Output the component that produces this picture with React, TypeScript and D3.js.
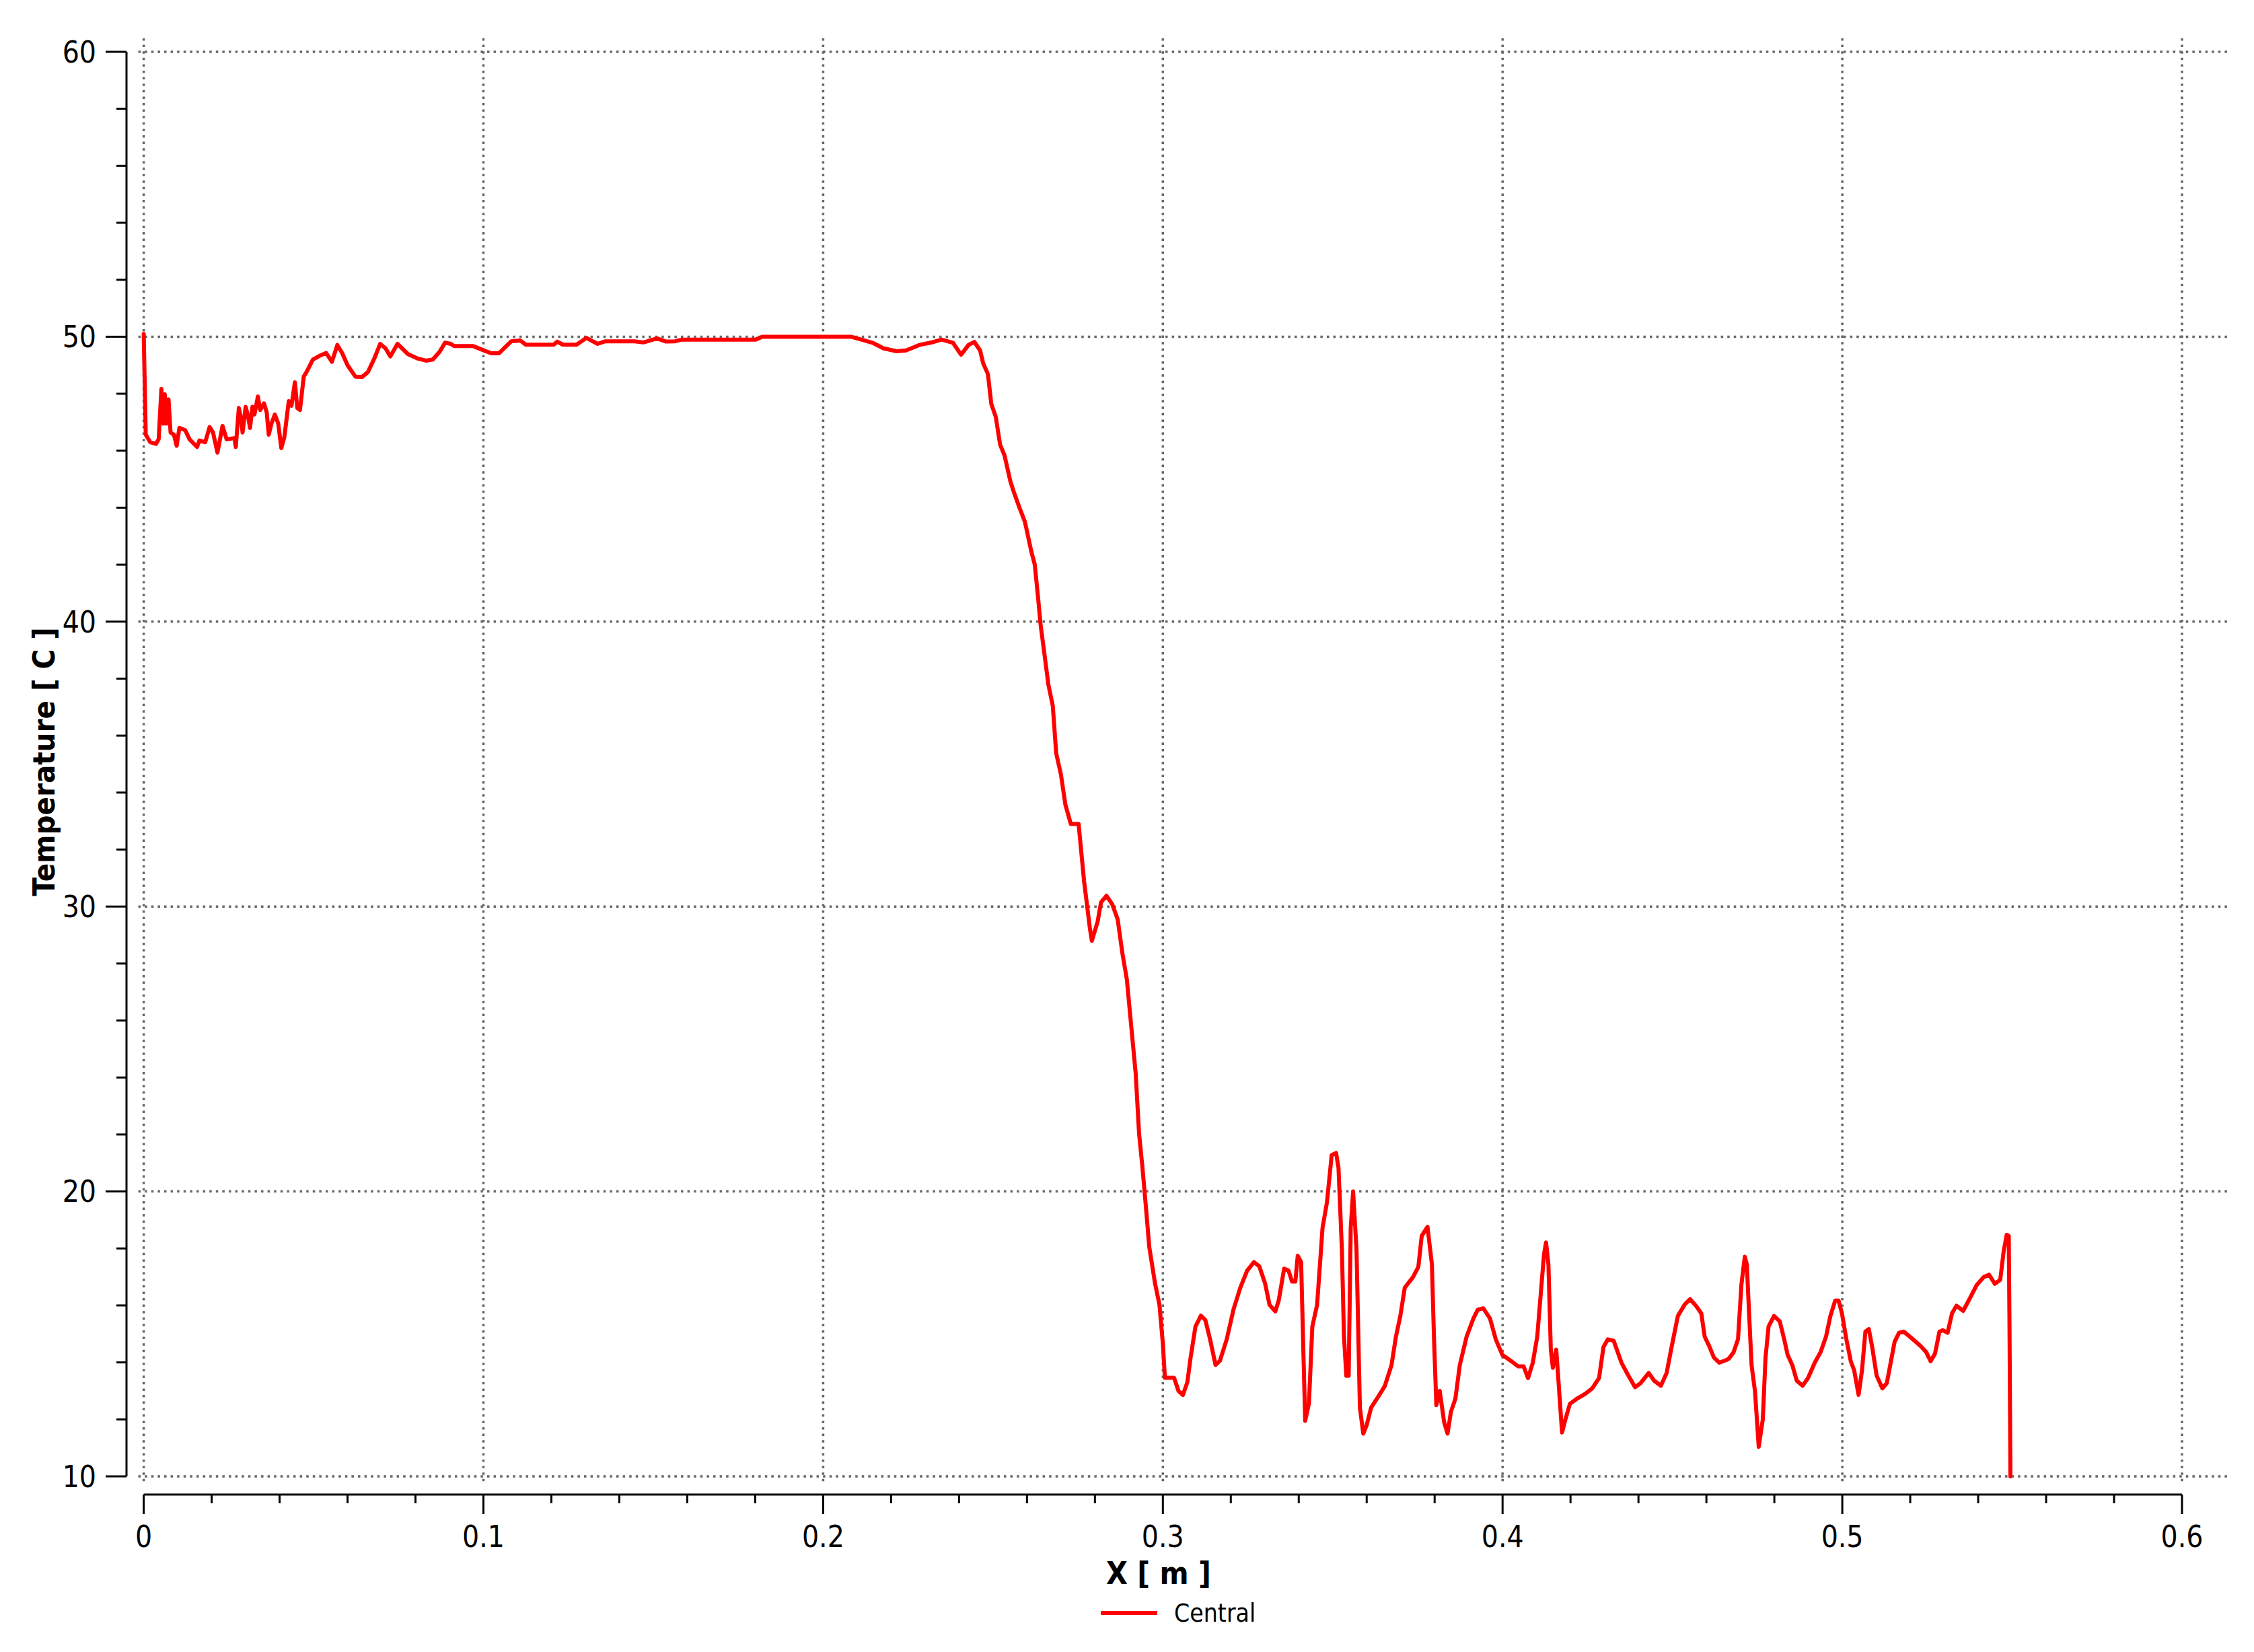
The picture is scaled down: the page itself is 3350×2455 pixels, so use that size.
import React from "react";
import * as d3 from "d3";

const positionsX: number[] = [
  0, 0.0006, 0.0019, 0.0036, 0.0044, 0.0052, 0.0058, 0.0062, 0.0067, 0.0073, 0.0079, 0.0089, 0.0097, 0.0105,
  0.0122, 0.0135, 0.0157, 0.0164, 0.0181, 0.0194, 0.0204, 0.0217, 0.0232, 0.0244, 0.0267, 0.0271, 0.028,
  0.0287, 0.0291, 0.03, 0.0306, 0.0313, 0.032, 0.0326, 0.0336, 0.0343, 0.0354, 0.0362, 0.0368, 0.0376,
  0.0386, 0.0396, 0.0405, 0.0414, 0.0427, 0.0435, 0.0445, 0.0452, 0.046, 0.0471, 0.0481, 0.0498, 0.0521,
  0.0537, 0.0554, 0.057, 0.0584, 0.06, 0.0623, 0.0643, 0.066, 0.0679, 0.0696, 0.0712, 0.0726, 0.0747,
  0.0778, 0.0805, 0.0831, 0.0851, 0.0871, 0.0887, 0.0904, 0.0914, 0.097, 0.1003, 0.1023, 0.1046, 0.1082,
  0.1108, 0.1125, 0.1207, 0.1217, 0.1234, 0.1274, 0.1303, 0.1336, 0.1359, 0.1445, 0.1471, 0.1511, 0.1537,
  0.1564, 0.1584, 0.1801, 0.1821, 0.2082, 0.2112, 0.2145, 0.2178, 0.2217, 0.2244, 0.2283, 0.2316, 0.2349,
  0.2382, 0.2406, 0.2428, 0.2445, 0.2462, 0.2471, 0.2485, 0.2495, 0.2508, 0.2521, 0.2534, 0.2551, 0.2561,
  0.2577, 0.2594, 0.2613, 0.2623, 0.2633, 0.264, 0.265, 0.2663, 0.2676, 0.2686, 0.27, 0.2713, 0.2729,
  0.2752, 0.2768, 0.2785, 0.2791, 0.2808, 0.2818, 0.2834, 0.2851, 0.2867, 0.2881, 0.2894, 0.2907, 0.292,
  0.293, 0.294, 0.295, 0.296, 0.2977, 0.299, 0.3, 0.3006, 0.3023, 0.3033, 0.3046, 0.3059, 0.3072, 0.3082,
  0.3096, 0.3112, 0.3125, 0.3139, 0.3155, 0.3168, 0.3188, 0.3208, 0.3228, 0.3248, 0.3268, 0.3284, 0.3301,
  0.3314, 0.3331, 0.3341, 0.3357, 0.337, 0.338, 0.339, 0.3397, 0.3407, 0.3414, 0.3419, 0.343, 0.344,
  0.3454, 0.347, 0.3483, 0.3497, 0.351, 0.3517, 0.3527, 0.3533, 0.354, 0.3547, 0.3553, 0.356, 0.357,
  0.358, 0.359, 0.36, 0.3613, 0.3633, 0.3653, 0.3673, 0.3686, 0.3699, 0.3712, 0.3736, 0.3752, 0.3762,
  0.3779, 0.3792, 0.3798, 0.3805, 0.3815, 0.3828, 0.3838, 0.3848, 0.3861, 0.3874, 0.3894, 0.3914, 0.3927,
  0.3943, 0.3963, 0.398, 0.3999, 0.4026, 0.4046, 0.4062, 0.4075, 0.4089, 0.4102, 0.4112, 0.4122, 0.4128,
  0.4135, 0.4142, 0.4148, 0.4158, 0.4165, 0.4175, 0.4185, 0.4198, 0.4218, 0.4244, 0.4264, 0.4284, 0.4297,
  0.431, 0.4327, 0.435, 0.437, 0.439, 0.4406, 0.443, 0.4446, 0.4466, 0.4483, 0.4496, 0.4516, 0.4536,
  0.4552, 0.4569, 0.4585, 0.4595, 0.4608, 0.4622, 0.4638, 0.4658, 0.4666, 0.468, 0.4693, 0.4703, 0.4713,
  0.4719, 0.4726, 0.4733, 0.4743, 0.4754, 0.4766, 0.4774, 0.4783, 0.4799, 0.4816, 0.4829, 0.4839, 0.4853,
  0.4866, 0.4883, 0.4899, 0.4919, 0.4936, 0.4952, 0.4965, 0.4979, 0.4989, 0.4999, 0.5012, 0.5025, 0.5035,
  0.5048, 0.5058, 0.5068, 0.5078, 0.5088, 0.5101, 0.5118, 0.5131, 0.5141, 0.5154, 0.5167, 0.5181, 0.5204,
  0.523, 0.5247, 0.526, 0.5273, 0.5286, 0.5296, 0.531, 0.5323, 0.5336, 0.5356, 0.5376, 0.5396, 0.5416,
  0.5432, 0.5449, 0.5465, 0.5475, 0.5484, 0.549, 0.5492, 0.5495,
];

const temperatures: number[] = [
  50.1, 46.56, 46.3, 46.24, 46.4, 48.17, 46.95, 47.98, 46.95, 47.8, 46.64, 46.56, 46.17, 46.8,
  46.72, 46.4, 46.13, 46.36, 46.3, 46.83, 46.64, 45.93, 46.87, 46.4, 46.44, 46.13, 47.5,
  47.1, 46.64, 47.54, 47.27, 46.8, 47.54, 47.27, 47.9, 47.43, 47.66, 47.35, 46.56, 46.95,
  47.27, 46.95, 46.09, 46.48, 47.74, 47.58, 48.4, 47.5, 47.43, 48.6, 48.8, 49.2, 49.35,
  49.43, 49.12, 49.71, 49.43, 49.0, 48.6, 48.59, 48.76, 49.24, 49.75, 49.59, 49.31, 49.75,
  49.39, 49.24, 49.16, 49.2, 49.47, 49.79, 49.75, 49.67, 49.67, 49.51, 49.42, 49.42, 49.84,
  49.87, 49.72, 49.72, 49.83, 49.72, 49.72, 49.96, 49.75, 49.84, 49.84, 49.8, 49.94, 49.83,
  49.84, 49.9, 49.9, 50.0, 50.0, 49.9, 49.79, 49.59, 49.49, 49.52, 49.71, 49.79, 49.9,
  49.79, 49.37, 49.71, 49.82, 49.52, 49.07, 48.69, 47.64, 47.19, 46.21, 45.83, 44.93, 44.56,
  44.03, 43.5, 42.45, 42.0, 40.8, 39.9, 38.99, 37.79, 37.04, 35.38, 34.63, 33.58, 32.9,
  32.9, 30.9, 29.25, 28.8, 29.47, 30.15, 30.38, 30.08, 29.55, 28.35, 27.44, 25.79, 24.14,
  22.03, 20.83, 19.47, 18.05, 16.77, 16.02, 14.66, 13.46, 13.46, 13.46, 13.0, 12.86, 13.3, 14.2,
  15.26, 15.64, 15.49, 14.81, 13.91, 14.06, 14.81, 15.86, 16.62, 17.22, 17.52, 17.37, 16.77,
  16.02, 15.79, 16.17, 17.29, 17.22, 16.84, 16.84, 17.74, 17.52, 14.2, 11.95, 12.56, 15.26,
  16.02, 18.72, 19.62, 21.28, 21.35, 20.83, 17.97, 14.96, 13.53, 13.53, 18.72, 20.0, 17.97,
  12.41, 11.5, 11.8, 12.41, 12.78, 13.16, 13.9, 14.9, 15.63, 16.62, 16.99, 17.35, 18.44,
  18.76, 17.44, 14.9, 12.5, 13.0, 11.9, 11.5, 12.27, 12.72, 13.9, 14.9, 15.54, 15.85,
  15.9, 15.54, 14.81, 14.27, 14.04, 13.86, 13.86, 13.45, 13.99, 14.9, 16.35, 17.8, 18.21,
  17.44, 14.45, 13.81, 14.45, 13.27, 11.54, 12.0, 12.54, 12.72, 12.9, 13.09, 13.45, 14.54,
  14.81, 14.76, 13.99, 13.54, 13.13, 13.27, 13.63, 13.36, 13.18, 13.63, 14.45, 15.63, 16.03,
  16.22, 15.99, 15.72, 14.9, 14.58, 14.17, 13.99, 14.08, 14.13, 14.36, 14.81, 16.72, 17.71,
  17.44, 15.63, 13.9, 12.99, 11.04, 12.0, 14.17, 15.26, 15.63, 15.44, 14.81, 14.27, 13.9,
  13.36, 13.18, 13.45, 13.99, 14.36, 14.9, 15.63, 16.17, 16.17, 15.72, 14.81, 14.04, 13.72,
  12.86, 13.72, 15.08, 15.17, 14.54, 13.54, 13.09, 13.27, 13.9, 14.72, 15.04, 15.08, 14.85,
  14.58, 14.36, 14.04, 14.31, 15.08, 15.13, 15.04, 15.72, 15.99, 15.81, 16.26, 16.72, 16.99,
  17.08, 16.76, 16.9, 17.9, 18.48, 18.44, 15.63, 10.0,
];

const xTickValues: number[] = [0, 0.1, 0.2, 0.3, 0.4, 0.5, 0.6];
const xTickLabels: string[] = ["0", "0.1", "0.2", "0.3", "0.4", "0.5", "0.6"];
const yTickValues: number[] = [10, 20, 30, 40, 50, 60];
const yTickLabels: string[] = ["10", "20", "30", "40", "50", "60"];
const seriesName = "Central";
const xTitle = "X [ m ]";
const yTitle = "Temperature [ C ]";

export default function App() {
  const W = 3350;
  const H = 2455;
  const x = d3.scaleLinear().domain([0, 0.6]).range([213.6, 3243]);
  const y = d3.scaleLinear().domain([10, 60]).range([2194, 77]);
  const yAxisX = 188;
  const xAxisY = 2221;

  const points: [number, number][] = positionsX.map((v, i) => [v, temperatures[i]]);
  const line = d3
    .line<[number, number]>()
    .x((d) => x(d[0]))
    .y((d) => y(d[1]));

  const xMinor = d3.range(0, 0.6001, 0.02).filter((v) => Math.abs(v * 10 - Math.round(v * 10)) > 1e-6);
  const yMinor = d3.range(10, 60.001, 2).filter((v) => v % 10 !== 0);

  const font = "'DejaVu Sans Condensed', 'DejaVu Sans', sans-serif";
  const gridStyle = { stroke: "#666666", strokeWidth: 3.5, strokeDasharray: "3.5 6.1" };

  return (
    <svg
      width={W}
      height={H}
      viewBox={`0 0 ${W} ${H}`}
      style={{ position: "absolute", left: 0, top: 0, background: "#fff" }}
    >
      <rect x={0} y={0} width={W} height={H} fill="#fff" />
      {/* grid */}
      <g>
        {yTickValues.map((v) => (
          <line key={"gy" + v} x1={x(0) - 8} x2={x(0.6) + 70} y1={y(v)} y2={y(v)} {...gridStyle} />
        ))}
        {xTickValues.map((v) => (
          <line key={"gx" + v} x1={x(v)} x2={x(v)} y1={y(60) - 20} y2={y(10) + 12} {...gridStyle} />
        ))}
      </g>
      {/* y axis */}
      <g stroke="#000" strokeWidth={3}>
        <line x1={yAxisX} x2={yAxisX} y1={y(60)} y2={y(10)} />
        {yTickValues.map((v) => (
          <line key={"yt" + v} x1={yAxisX - 31} x2={yAxisX} y1={y(v)} y2={y(v)} />
        ))}
        {yMinor.map((v) => (
          <line key={"ym" + v} x1={yAxisX - 15} x2={yAxisX} y1={y(v)} y2={y(v)} />
        ))}
      </g>
      {yTickValues.map((v, i) => (
        <text
          key={"yl" + v}
          x={143}
          y={y(v)}
          dy="0.36em"
          textAnchor="end"
          fontFamily={font}
          fontSize={44}
          fill="#000"
        >
          {yTickLabels[i]}
        </text>
      ))}
      {/* x axis */}
      <g stroke="#000" strokeWidth={3}>
        <line x1={x(0)} x2={x(0.6)} y1={xAxisY} y2={xAxisY} />
        {xTickValues.map((v) => (
          <line key={"xt" + v} x1={x(v)} x2={x(v)} y1={xAxisY} y2={xAxisY + 29} />
        ))}
        {xMinor.map((v) => (
          <line key={"xm" + v} x1={x(v)} x2={x(v)} y1={xAxisY} y2={xAxisY + 13} />
        ))}
      </g>
      {xTickValues.map((v, i) => (
        <text
          key={"xl" + v}
          x={x(v)}
          y={2283}
          dy="0.36em"
          textAnchor="middle"
          fontFamily={font}
          fontSize={44}
          fill="#000"
        >
          {xTickLabels[i]}
        </text>
      ))}
      {/* titles */}
      <text
        x={1722}
        y={2337}
        dy="0.36em"
        textAnchor="middle"
        fontFamily={font}
        fontWeight="bold"
        fontSize={46}
        fill="#000"
      >
        {xTitle}
      </text>
      <text
        transform="translate(65,1132) rotate(-90)"
        dy="0.36em"
        textAnchor="middle"
        fontFamily={font}
        fontWeight="bold"
        fontSize={45}
        fill="#000"
      >
        {yTitle}
      </text>
      {/* data */}
      <path
        d={line(points) || ""}
        fill="none"
        stroke="#ff0000"
        strokeWidth={6}
        strokeLinejoin="round"
        strokeLinecap="round"
      />
      {/* legend */}
      <line x1={1636} x2={1720} y1={2397} y2={2397} stroke="#ff0000" strokeWidth={6} />
      <text x={1745} y={2397} dy="0.36em" fontFamily={font} fontSize={37} fill="#000">
        {seriesName}
      </text>
    </svg>
  );
}
